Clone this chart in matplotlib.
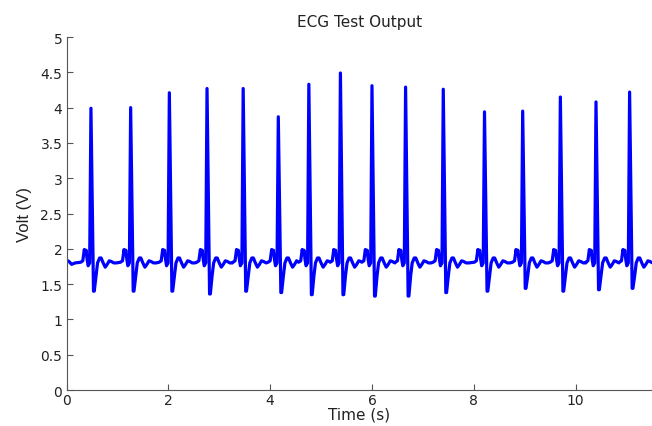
import numpy as np
import matplotlib
matplotlib.use("Agg")
import matplotlib.pyplot as plt

# R-peak times (s), R-peak heights and S-trough depths (V)
beat_times = [0.48, 1.26, 2.02, 2.76, 3.47, 4.16, 4.76, 5.38, 6.00, 6.66,
              7.40, 8.21, 8.96, 9.70, 10.40, 11.06]
r_peaks = [3.99, 4.00, 4.21, 4.27, 4.27, 3.87, 4.33, 4.49, 4.31, 4.29,
           4.26, 3.94, 3.95, 4.15, 4.08, 4.22]
s_troughs = [1.40, 1.40, 1.40, 1.36, 1.40, 1.38, 1.35, 1.35, 1.33, 1.33,
             1.38, 1.40, 1.44, 1.40, 1.42, 1.44]

# shape of one beat around the R peak (offset in s, volts); 'R' / 'S' = per-beat slots
beat_offsets = [-0.20, -0.16, -0.13, -0.115, -0.095, -0.075, -0.055, -0.025,
                0.0, 0.05, 0.065, 0.10, 0.13, 0.17, 0.20, 0.24, 0.28, 0.32,
                0.36, 0.40, 0.45, 0.50]
beat_levels = [1.81, 1.83, 1.99, 1.92, 1.98, 1.85, 1.76, 1.80,
               'R', 'S', 'S', 1.62, 1.80, 1.87, 1.87, 1.80, 1.74, 1.78,
               1.83, 1.82, 1.80, 1.80]

# trace before the first beat
lead_t = [0.0, 0.05, 0.10, 0.17]
lead_v = [1.84, 1.82, 1.78, 1.80]

t = list(lead_t)
v = list(lead_v)
for i, bt in enumerate(beat_times):
    nxt = beat_times[i + 1] - 0.2 if i + 1 < len(beat_times) else 99
    for off, lev in zip(beat_offsets, beat_levels):
        tt = bt + off
        if tt >= nxt:
            break
        if lev == 'R':
            lev = r_peaks[i]
        elif lev == 'S':
            lev = s_troughs[i]
        t.append(tt)
        v.append(lev)

fig = plt.figure(figsize=(6.52, 4.27), dpi=100)
ax = fig.add_axes([0.102, 0.0843, 0.898, 0.8267])
ax.plot(t, v, color='#0000ff', lw=2.3, solid_joinstyle='round')

ax.set_xlim(0, 11.5)
ax.set_ylim(0, 5)
ax.set_xticks([0, 2, 4, 6, 8, 10])
ax.set_yticks(np.arange(0, 5.01, 0.5))
ax.set_yticklabels(['0', '0.5', '1', '1.5', '2', '2.5', '3', '3.5', '4', '4.5', '5'])
ax.tick_params(direction='in', length=4, width=0.8, colors='#555555',
               labelcolor='#222222', labelsize=10, pad=3)
ax.tick_params(axis='x', pad=2)
for s in ['top', 'right']:
    ax.spines[s].set_visible(False)
for s in ['left', 'bottom']:
    ax.spines[s].set_color('#555555')
    ax.spines[s].set_linewidth(0.8)

ax.set_title('ECG Test Output', fontsize=11, color='#222222', pad=8)
ax.set_xlabel('Time (s)', fontsize=11, color='#222222', labelpad=0)
ax.set_ylabel('Volt (V)', fontsize=12, family='Liberation Sans',
              color='#222222', labelpad=6)

fig.savefig('out.png', dpi=100)
